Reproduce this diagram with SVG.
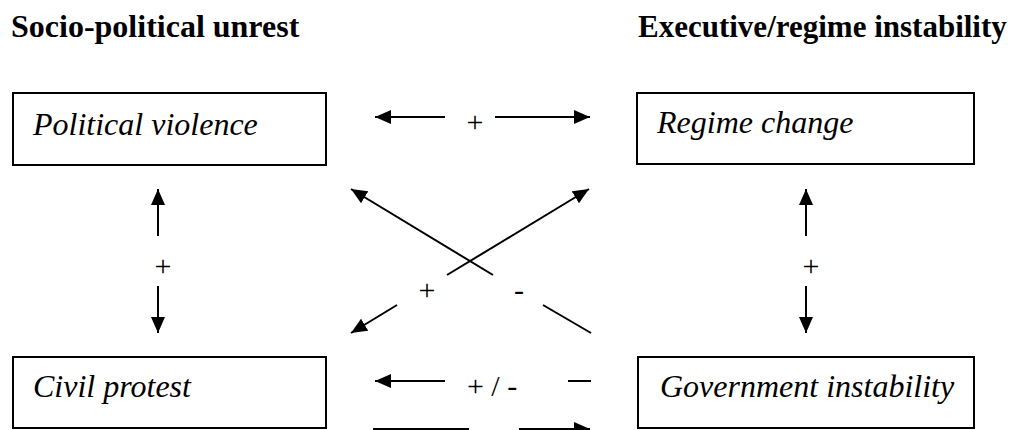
<svg xmlns="http://www.w3.org/2000/svg" width="1016" height="430" viewBox="0 0 1016 430">
<style>
.hdr{font-family:"Liberation Serif","Times New Roman",serif;font-weight:bold;font-size:32px;fill:#000}
.box{fill:#fff;stroke:#000;stroke-width:2}
.lbl{font-family:"Liberation Serif","Times New Roman",serif;font-style:italic;font-size:32px;fill:#000}
.sgn{font-family:"Liberation Serif","Times New Roman",serif;font-size:30px;fill:#000;text-anchor:middle}
.ln{stroke:#000;stroke-width:2;fill:none}
</style>
<defs>
<marker id="ah" markerUnits="userSpaceOnUse" markerWidth="16" markerHeight="14" refX="16" refY="7" orient="auto-start-reverse" viewBox="0 0 16 14">
<path d="M0,0 L16,7 L0,14 z" fill="#000"/>
</marker>
</defs>
<rect width="1016" height="430" fill="#fff"/>
<text class="hdr" x="11" y="37">Socio-political unrest</text>
<text class="hdr" x="638" y="37" style="font-size:31px">Executive/regime instability</text>

<g id="node-political-violence">
<rect class="box" x="13" y="93" width="313" height="72"/>
<text class="lbl" x="33" y="135">Political violence</text>
</g>
<g id="node-regime-change">
<rect class="box" x="637" y="93" width="337" height="71"/>
<text class="lbl" x="657" y="133">Regime change</text>
</g>
<g id="node-civil-protest">
<rect class="box" x="13" y="357" width="313" height="71"/>
<text class="lbl" x="33" y="397">Civil protest</text>
</g>
<g id="node-government-instability">
<rect class="box" x="638" y="357" width="336" height="71"/>
<text class="lbl" x="660" y="397">Government instability</text>
</g>

<g id="connectors">
<line class="ln" x1="445" y1="117" x2="375" y2="117" marker-end="url(#ah)"/>
<line class="ln" x1="495" y1="117" x2="590" y2="117" marker-end="url(#ah)"/>
<text class="sgn" x="475" y="132">+</text>
<line class="ln" x1="158" y1="236" x2="158" y2="189" marker-end="url(#ah)"/>
<line class="ln" x1="158" y1="286" x2="158" y2="333" marker-end="url(#ah)"/>
<text class="sgn" x="163" y="276">+</text>
<line class="ln" x1="806" y1="236" x2="806" y2="189" marker-end="url(#ah)"/>
<line class="ln" x1="806" y1="286" x2="806" y2="333" marker-end="url(#ah)"/>
<text class="sgn" x="811" y="276">+</text>
<line class="ln" x1="493" y1="275" x2="351" y2="189" marker-end="url(#ah)"/>
<line class="ln" x1="543" y1="305" x2="591" y2="333"/>
<text class="sgn" x="519" y="300">-</text>
<line class="ln" x1="447" y1="275" x2="589" y2="189" marker-end="url(#ah)"/>
<line class="ln" x1="397" y1="305" x2="351" y2="333" marker-end="url(#ah)"/>
<text class="sgn" x="427" y="300">+</text>
<line class="ln" x1="445" y1="381" x2="375" y2="381" marker-end="url(#ah)"/>
<line class="ln" x1="568" y1="381" x2="591" y2="381"/>
<text class="sgn" x="492" y="396">+ / -</text>
<line class="ln" x1="373" y1="429" x2="469" y2="429"/>
<line class="ln" x1="519" y1="429" x2="590" y2="429" marker-end="url(#ah)"/>
</g>
</svg>
